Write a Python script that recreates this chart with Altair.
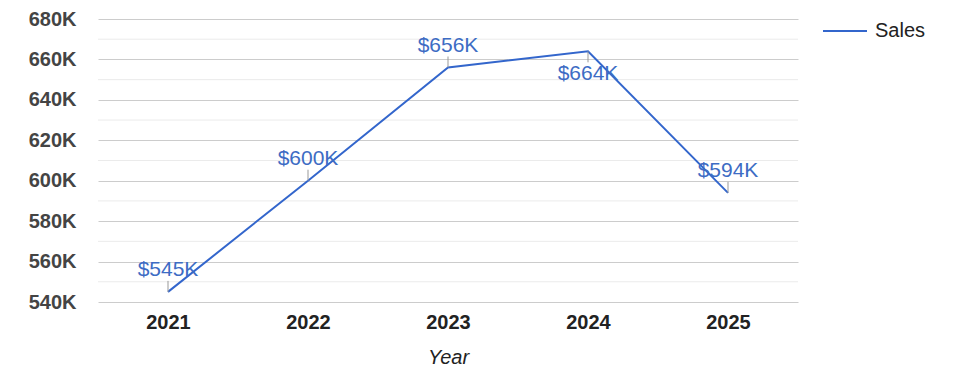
import altair as alt
import pandas as pd

years = ["2021", "2022", "2023", "2024", "2025"]
sales = [545000, 600000, 656000, 664000, 594000]
series = ["Sales"] * len(years)
major_ticks = [540000, 560000, 580000, 600000, 620000, 640000, 660000, 680000]
minor_grid = [550000, 570000, 590000, 610000, 630000, 650000, 670000]

df = pd.DataFrame({"Year": years, "Sales": sales, "Series": series})
grid_df = pd.DataFrame({"Sales": minor_grid})

FONT = "Liberation Sans, Arial, sans-serif"
BLUE = "#3366cc"

x_enc = alt.X(
    "Year:N",
    scale=alt.Scale(type="point", padding=0.5),
    axis=alt.Axis(
        title="Year",
        labelAngle=0,
        labelFontSize=20,
        labelFontWeight="bold",
        labelColor="#222222",
        labelPadding=10,
        ticks=False,
        domain=False,
        grid=False,
        titleFontSize=20,
        titleFontStyle="italic",
        titleFontWeight="normal",
        titleColor="#222222",
        titlePadding=15,
    ),
)

y_scale = alt.Scale(domain=[540000, 680000], nice=False, zero=False)

y_axis = alt.Axis(
    title=None,
    values=major_ticks,
    labelExpr="(datum.value / 1000) + 'K'",
    labelFontSize=20,
    labelFontWeight="bold",
    labelColor="#444444",
    labelPadding=22,
    ticks=False,
    domain=False,
    gridColor="#cccccc",
    gridWidth=1,
)

minor = alt.Chart(grid_df).mark_rule(color="#ebebeb", strokeWidth=1).encode(
    y=alt.Y("Sales:Q", scale=y_scale, axis=y_axis)
)

base = alt.Chart(df).transform_joinaggregate(maxS="max(Sales)")

line = base.mark_line(strokeWidth=2).encode(
    x=x_enc,
    y=alt.Y("Sales:Q", scale=y_scale, axis=y_axis),
    color=alt.Color(
        "Series:N",
        scale=alt.Scale(range=[BLUE]),
        legend=alt.Legend(
            title=None,
            orient="none",
            legendX=724,
            legendY=-11,
            symbolType="stroke",
            symbolSize=1936,
            symbolStrokeWidth=2,
            labelFontSize=20,
            labelFont=FONT,
            labelColor="#222222",
            labelOffset=7,
        ),
    ),
)

above = base.transform_filter("datum.Sales < datum.maxS")
below = base.transform_filter("datum.Sales >= datum.maxS")

tick_above = above.mark_rule(color="#999999", strokeWidth=1, y2Offset=-11).encode(
    x="Year:N", y="Sales:Q", y2="Sales:Q"
)
tick_below = below.mark_rule(color="#999999", strokeWidth=1, y2Offset=11).encode(
    x="Year:N", y="Sales:Q", y2="Sales:Q"
)

label_expr = "'$' + format(datum.Sales / 1000, 'd') + 'K'"

text_above = above.transform_calculate(lbl=label_expr).mark_text(
    fontSize=21, font=FONT, color="#3d6cc4", baseline="alphabetic", dy=-16, align="center"
).encode(x="Year:N", y="Sales:Q", text="lbl:N")

text_below = below.transform_calculate(lbl=label_expr).mark_text(
    fontSize=21, font=FONT, color="#3d6cc4", baseline="alphabetic", dy=29, align="center"
).encode(x="Year:N", y="Sales:Q", text="lbl:N")

chart = (
    alt.layer(minor, line, tick_above, tick_below, text_above, text_below)
    .properties(
        width=700,
        height=283,
        autosize=alt.AutoSizeParams(type="none"),
        padding={"left": 98, "top": 19, "right": 177, "bottom": 76},
    )
    .configure(font=FONT)
    .configure_view(stroke=None)
)

chart.save("out.html", embed_options={"renderer": "svg", "actions": False})
